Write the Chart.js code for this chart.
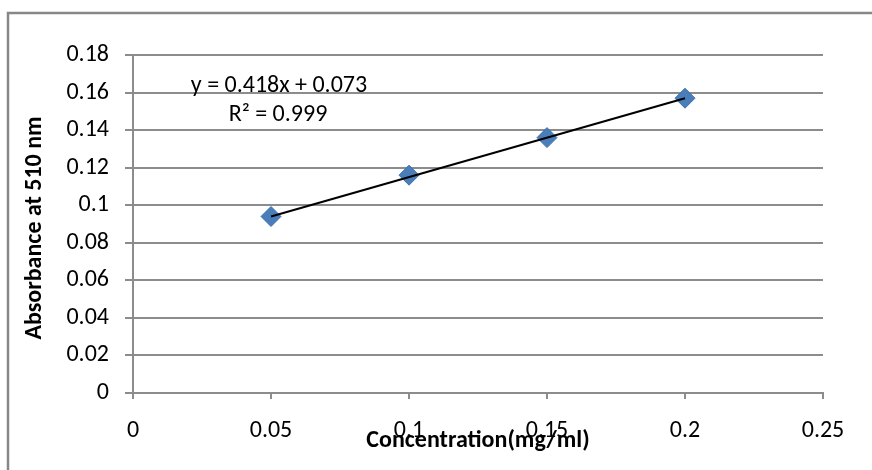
<!DOCTYPE html>
<html>
<head>
<meta charset="utf-8">
<script src="https://cdn.jsdelivr.net/npm/chart.js@4/dist/chart.umd.min.js"></script>
<style>
  html, body { margin: 0; padding: 0; background: #fff; }
  #wrap { width: 872px; height: 470px; position: relative; }
</style>
</head>
<body>
<div id="wrap"><canvas id="chart" width="872" height="470"></canvas></div>
<script>
// data
var concentrations = [0.05, 0.1, 0.15, 0.2];
var absorbance = [0.094, 0.116, 0.136, 0.157];
// trendline end points (y = 0.418x + 0.073)
var trendX = [0.05, 0.2];
var trendY = [0.094, 0.157];
var equationText = "y = 0.418x + 0.073";
var r2Text = "R\u00b2 = 0.999";
var xTitle = "Concentration(mg/ml)";
var yTitle = "Absorbance at 510 nm";

var fontFamily = "Calibri, Carlito, 'Open Sans', sans-serif";
var gridGray = "#8c8c8c";

function toPoints(xs, ys) {
    return xs.map(function (x, i) { return { x: x, y: ys[i] }; });
}

function fmt(v) {
    return String(Number(v.toFixed(3)));
}

// frame, axis titles and trendline label, Excel style
var decorations = {
    id: "decorations",
    afterDraw: function (chart) {
        var ctx = chart.ctx;
        var area = chart.chartArea;
        ctx.save();
        ctx.strokeStyle = "#878787";
        ctx.lineWidth = 2.5;
        ctx.beginPath();
        ctx.moveTo(8, 470);
        ctx.lineTo(8, 13);
        ctx.lineTo(872, 13);
        ctx.stroke();

        ctx.fillStyle = "#000";
        ctx.textAlign = "center";
        ctx.textBaseline = "middle";
        ctx.font = "24px " + fontFamily;
        ctx.fillText(equationText, 279, 86);
        ctx.fillText(r2Text, 278, 115);

        ctx.font = "bold 24px " + fontFamily;
        ctx.fillText(xTitle, (area.left + area.right) / 2, 441);

        ctx.translate(35, (area.top + area.bottom) / 2 + 4);
        ctx.rotate(-Math.PI / 2);
        ctx.fillText(yTitle, 0, 0);
        ctx.restore();
    }
};

new Chart(document.getElementById("chart"), {
    type: "scatter",
    data: {
        datasets: [
            {
                type: "line",
                label: "Linear",
                data: toPoints(trendX, trendY),
                borderColor: "#000",
                borderWidth: 2,
                pointRadius: 0,
                fill: false,
                order: 0
            },
            {
                label: "Absorbance",
                data: toPoints(concentrations, absorbance),
                pointStyle: "rectRot",
                pointRadius: 10,
                pointBackgroundColor: "#4a7ebb",
                pointBorderColor: "#3f70aa",
                pointBorderWidth: 1,
                order: 1
            }
        ]
    },
    plugins: [decorations],
    options: {
        responsive: false,
        animation: false,
        devicePixelRatio: 1,
        layout: {
            padding: { left: 0, top: 55, right: 49, bottom: 0 }
        },
        plugins: {
            legend: { display: false },
            tooltip: { enabled: false }
        },
        scales: {
            x: {
                type: "linear",
                min: 0,
                max: 0.25,
                ticks: {
                    stepSize: 0.05,
                    color: "#000",
                    padding: 18,
                    maxRotation: 0,
                    font: { family: fontFamily, size: 24 },
                    callback: fmt
                },
                grid: {
                    drawOnChartArea: false,
                    drawTicks: true,
                    tickLength: 6,
                    color: gridGray,
                    lineWidth: 2
                },
                border: { color: gridGray, width: 2 },
                afterFit: function (scale) { scale.height = 77; }
            },
            y: {
                type: "linear",
                min: 0,
                max: 0.18,
                ticks: {
                    stepSize: 0.02,
                    color: "#000",
                    padding: 16,
                    font: { family: fontFamily, size: 24 },
                    callback: fmt
                },
                grid: {
                    color: gridGray,
                    lineWidth: 2,
                    tickLength: 8
                },
                border: { color: gridGray, width: 2 },
                afterFit: function (scale) { scale.width = 133; }
            }
        }
    }
});
</script>
</body>
</html>
